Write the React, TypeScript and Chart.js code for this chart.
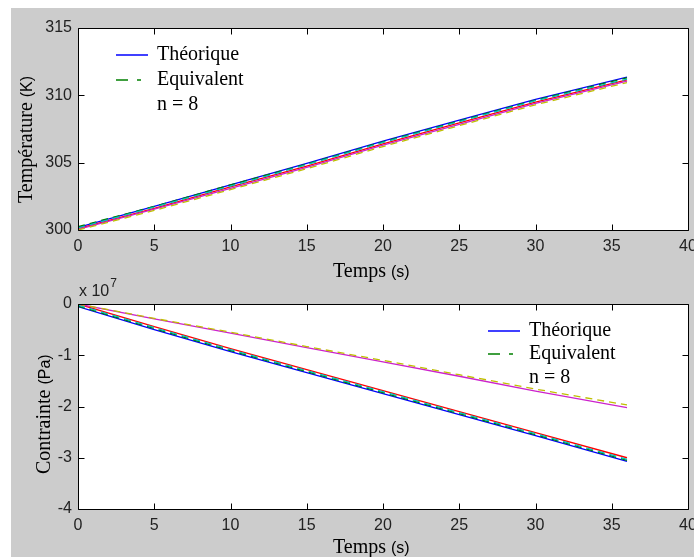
import React, { useEffect, useRef } from 'react';
import { Chart, registerables } from 'chart.js';

Chart.register(...registerables);

// ---------- DATA ----------
const timeS = [0, 5, 10, 15, 20, 25, 30, 36];

// Température (K)
const tempTheorique1 = [300.2, 301.75, 303.35, 304.95, 306.6, 308.15, 309.7, 311.35];
const tempEquivalent1 = [300.25, 301.75, 303.35, 304.9, 306.55, 308.1, 309.65, 311.3];
const tempTheorique2 = [300.1, 301.6, 303.2, 304.75, 306.4, 307.95, 309.5, 311.15];
const tempEquivalent2 = [300.15, 301.7, 303.25, 304.85, 306.5, 308.05, 309.6, 311.2];
const tempTheorique3 = [300.05, 301.55, 303.1, 304.65, 306.3, 307.85, 309.4, 311.05];
const tempEquivalent3 = [300.0, 301.45, 303.0, 304.55, 306.2, 307.75, 309.3, 310.95];

// Contrainte (Pa), in units of 10^7
const stressTheorique1 = [-0.05, -0.5, -0.93, -1.34, -1.75, -2.16, -2.57, -3.07];
const stressEquivalent1 = [-0.04, -0.48, -0.91, -1.32, -1.73, -2.14, -2.55, -3.05];
const stressTheorique2 = [0, -0.44, -0.87, -1.28, -1.69, -2.1, -2.51, -3.0];
const stressEquivalent2 = [-0.02, -0.46, -0.89, -1.3, -1.71, -2.12, -2.53, -3.03];
const stressTheorique3 = [0, -0.29, -0.57, -0.85, -1.13, -1.41, -1.7, -2.02];
const stressEquivalent3 = [0, -0.28, -0.55, -0.83, -1.1, -1.38, -1.66, -1.97];

const xTicksRange = [0, 40];
const tempRange = [300, 315];
const stressRange = [-4, 0];
const legendLabels = ['Théorique', 'Equivalent', 'n = 8'];
const stressExponent = '7';

// ---------- STYLE ----------
const serif = "'Liberation Serif', 'Times New Roman', serif";
const sans = "'Liberation Sans', Arial, sans-serif";
const colors = ['#0000ff', '#008000', '#ff0000', '#00bfbf', '#cc22cc', '#bfbf00'];
const plotDash = [7, 5];

function makeDatasets(series: number[][]) {
  return series.map((vals, i) => ({
    data: vals.map((v, k) => ({ x: timeS[k], y: v })),
    borderColor: colors[i],
    backgroundColor: colors[i],
    borderWidth: 1.3,
    borderDash: i % 2 === 1 ? plotDash : [],
    pointRadius: 0,
    tension: 0,
    fill: false,
    order: series.length - i,
  }));
}

function drawLabel(ctx: CanvasRenderingContext2D, x: number, y: number, rotate: boolean, main: string, unit: string) {
  ctx.save();
  ctx.translate(x, y);
  if (rotate) ctx.rotate(-Math.PI / 2);
  ctx.fillStyle = '#000';
  ctx.textAlign = 'left';
  ctx.textBaseline = 'alphabetic';
  ctx.font = `20px ${serif}`;
  ctx.fillText(main, 0, 0);
  const w = ctx.measureText(main).width;
  ctx.font = `16px ${sans}`;
  ctx.fillText(unit, w + 5, 0);
  ctx.restore();
}

const matlabPlugin = {
  id: 'matlab',
  beforeDatasetsDraw(chart: any) {
    const ctx: CanvasRenderingContext2D = chart.ctx;
    const ca = chart.chartArea;
    ctx.save();
    ctx.fillStyle = '#ffffff';
    ctx.fillRect(ca.left, ca.top, ca.right - ca.left + 1, ca.bottom - ca.top + 1);
    ctx.restore();
  },
  afterDatasetsDraw(chart: any, _args: any, o: any) {
    const ctx: CanvasRenderingContext2D = chart.ctx;
    const ca = chart.chartArea;
    const L = Math.round(ca.left) + 0.5;
    const R = Math.round(ca.right) + 0.5;
    const T = Math.round(ca.top) + 0.5;
    const B = Math.round(ca.bottom) + 0.5;
    ctx.save();
    ctx.strokeStyle = '#000';
    ctx.lineWidth = 1;
    ctx.setLineDash([]);
    ctx.beginPath();
    ctx.moveTo(L, T); ctx.lineTo(R, T); ctx.lineTo(R, B); ctx.lineTo(L, B); ctx.closePath();
    const tl = 6;
    const xs = chart.scales.x;
    const ys = chart.scales.y;
    xs.ticks.forEach((t: any) => {
      const px = Math.round(xs.getPixelForValue(t.value)) + 0.5;
      ctx.moveTo(px, B); ctx.lineTo(px, B - tl);
      ctx.moveTo(px, T); ctx.lineTo(px, T + tl);
    });
    ys.ticks.forEach((t: any) => {
      const py = Math.round(ys.getPixelForValue(t.value)) + 0.5;
      ctx.moveTo(L, py); ctx.lineTo(L + tl, py);
      ctx.moveTo(R, py); ctx.lineTo(R - tl, py);
    });
    ctx.stroke();

    // legend
    const lg = o.legend;
    ctx.font = `20px ${serif}`;
    ctx.fillStyle = '#000';
    ctx.textAlign = 'left';
    ctx.textBaseline = 'alphabetic';
    lg.items.forEach((it: any, i: number) => {
      const base = lg.baselines[i];
      if (it.color) {
        ctx.beginPath();
        ctx.strokeStyle = it.color;
        ctx.lineWidth = 1.5;
        ctx.setLineDash(it.dash || []);
        ctx.moveTo(lg.x0, base - lg.lineOffset);
        ctx.lineTo(lg.x1, base - lg.lineOffset);
        ctx.stroke();
      }
      ctx.fillText(it.text, lg.textX, base);
    });
    ctx.setLineDash([]);

    // axis titles
    drawLabel(ctx, o.xTitle.x, o.xTitle.y, false, 'Temps', '(s)');
    drawLabel(ctx, o.yTitle.x, o.yTitle.y, true, o.yTitle.main, o.yTitle.unit);

    if (o.exponent) {
      ctx.fillStyle = '#222';
      ctx.font = `16px ${sans}`;
      ctx.fillText('x 10', o.exponent.x, o.exponent.y);
      const w = ctx.measureText('x 10').width;
      ctx.font = `12px ${sans}`;
      ctx.fillText(stressExponent, o.exponent.x + w + 1, o.exponent.y - 9);
    }
    ctx.restore();
  },
};

function legendFor(x0: number, baselines: number[]) {
  return {
    x0,
    x1: x0 + 32,
    textX: x0 + 41,
    lineOffset: 5,
    baselines,
    items: [
      { text: legendLabels[0], color: colors[0], dash: [] },
      { text: legendLabels[1], color: colors[1], dash: [12, 9, 4, 9] },
      { text: legendLabels[2] },
    ],
  };
}

function makeConfig(series: number[][], yRange: number[], padTop: number, xHeight: number, pluginOpts: any, yCb?: (v: any) => string): any {
  return {
    type: 'line',
    data: { datasets: makeDatasets(series) },
    plugins: [matlabPlugin],
    options: {
      animation: false,
      responsive: false,
      maintainAspectRatio: false,
      layout: { padding: { top: padTop, right: 6, left: 0, bottom: 0 } },
      plugins: {
        legend: { display: false },
        tooltip: { enabled: false },
        matlab: pluginOpts,
      },
      scales: {
        x: {
          type: 'linear',
          min: xTicksRange[0],
          max: xTicksRange[1],
          grid: { display: false, drawTicks: false },
          border: { display: false },
          ticks: {
            stepSize: 5,
            autoSkip: false,
            maxRotation: 0,
            padding: 7,
            color: '#222',
            font: { family: sans, size: 16 },
          },
          afterFit: (s: any) => { s.height = xHeight; s.paddingLeft = 0; s.paddingRight = 0; },
        },
        y: {
          type: 'linear',
          min: yRange[0],
          max: yRange[1],
          grid: { display: false, drawTicks: false },
          border: { display: false },
          ticks: {
            stepSize: yRange[1] - yRange[0] === 15 ? 5 : 1,
            autoSkip: false,
            padding: 6,
            color: '#222',
            font: { family: sans, size: 16 },
            callback: yCb,
          },
          afterFit: (s: any) => { s.width = 67; s.paddingTop = 0; s.paddingBottom = 0; },
        },
      },
    },
  };
}

function ChartCanvas({ config, left, top, width, height }: any) {
  const ref = useRef<HTMLCanvasElement>(null);
  useEffect(() => {
    const chart = new Chart(ref.current as HTMLCanvasElement, config());
    return () => chart.destroy();
  }, []);
  return (
    <canvas
      ref={ref}
      width={width}
      height={height}
      style={{ position: 'absolute', left, top, width, height }}
    />
  );
}

export default function App() {
  const topConfig = () =>
    makeConfig(
      [tempTheorique1, tempEquivalent1, tempTheorique2, tempEquivalent2, tempTheorique3, tempEquivalent3],
      tempRange,
      20,
      58,
      {
        legend: legendFor(105, [52, 77, 102]),
        xTitle: { x: 322, y: 269 },
        yTitle: { x: 21, y: 195, main: 'Température', unit: '(K)' },
      },
      (v: any) => String(v)
    );
  const bottomConfig = () =>
    makeConfig(
      [stressTheorique1, stressEquivalent1, stressTheorique2, stressEquivalent2, stressTheorique3, stressEquivalent3],
      stressRange,
      34,
      48,
      {
        legend: legendFor(477, [66, 89, 113]),
        xTitle: { x: 322, y: 283 },
        yTitle: { x: 39, y: 204, main: 'Contrainte', unit: '(Pa)' },
        exponent: { x: 68, y: 26 },
      },
      (v: any) => String(v)
    );
  return (
    <div
      style={{
        position: 'fixed',
        left: 11,
        top: 8,
        width: 683,
        height: 549,
        background: '#cccccc',
        overflow: 'hidden',
      }}
    >
      <ChartCanvas config={topConfig} left={0} top={0} width={683} height={280} />
      <ChartCanvas config={bottomConfig} left={0} top={262} width={683} height={287} />
    </div>
  );
}
